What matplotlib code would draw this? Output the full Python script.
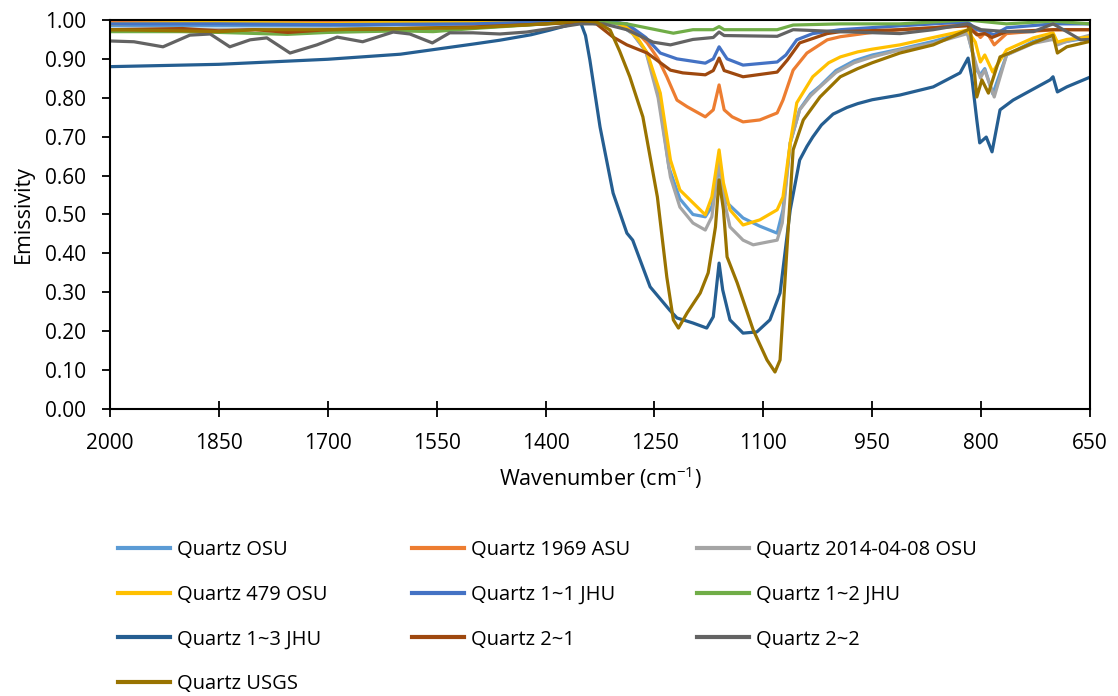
import matplotlib.pyplot as plt

plt.rcParams['font.family'] = ['Open Sans', 'DejaVu Sans']
plt.rcParams['mathtext.default'] = 'regular'

labels = ['Quartz OSU', 'Quartz 1969 ASU', 'Quartz 2014-04-08 OSU',
          'Quartz 479 OSU', 'Quartz 1~1 JHU', 'Quartz 1~2 JHU',
          'Quartz 1~3 JHU', 'Quartz 2~1', 'Quartz 2~2', 'Quartz USGS']
colors = ['#5B9BD5', '#ED7D31', '#A5A5A5', '#FFC000', '#4472C4', '#70AD47',
          '#255E91', '#9E480E', '#636363', '#997300']

# Quartz OSU
wn_osu = [2000, 1850, 1700, 1500, 1400, 1330, 1300, 1280, 1262, 1245, 1230, 1215, 1197, 1180,
          1171, 1161, 1155, 1150, 1128, 1105, 1081, 1073, 1063, 1050, 1035, 1022, 1000, 975, 950,
          912, 866, 819, 806, 801, 795, 784, 765, 728, 701, 695, 682, 650]
em_osu = [0.985, 0.985, 0.985, 0.99, 0.995, 1.0, 0.99, 0.965, 0.92, 0.82, 0.62, 0.54, 0.50, 0.494,
          0.52, 0.622, 0.56, 0.530, 0.491, 0.47, 0.452, 0.512, 0.684, 0.77, 0.81, 0.83, 0.87, 0.895,
          0.91, 0.925, 0.945, 0.97, 0.87, 0.86, 0.875, 0.81, 0.91, 0.945, 0.96, 0.94, 0.945, 0.955]

# Quartz 1969 ASU
wn_asu = [2000, 1850, 1700, 1500, 1400, 1330, 1297, 1275, 1260, 1245, 1233, 1219, 1205, 1180,
          1169, 1161, 1154, 1143, 1128, 1105, 1081, 1073, 1059, 1040, 1012, 994, 950, 912, 866,
          819, 806, 801, 793, 782, 765, 701, 650]
em_asu = [0.995, 0.996, 0.995, 0.996, 0.998, 1.0, 0.992, 0.97, 0.941, 0.9, 0.854, 0.794, 0.777,
          0.751, 0.769, 0.833, 0.769, 0.751, 0.738, 0.743, 0.761, 0.794, 0.871, 0.915, 0.949,
          0.957, 0.968, 0.975, 0.98, 0.99, 0.965, 0.955, 0.97, 0.936, 0.965, 0.975, 0.975]

# Quartz 2014-04-08 OSU
wn_osu14 = [2000, 1850, 1700, 1500, 1400, 1330, 1300, 1280, 1262, 1245, 1228, 1215, 1197, 1180,
            1171, 1161, 1155, 1146, 1128, 1114, 1095, 1081, 1074, 1063, 1050, 1035, 1022, 1000,
            975, 950, 912, 866, 819, 806, 801, 795, 782, 765, 728, 701, 695, 682, 650]
em_osu14 = [0.975, 0.975, 0.977, 0.98, 0.99, 1.0, 0.99, 0.965, 0.92, 0.80, 0.596, 0.519, 0.478,
            0.460, 0.494, 0.640, 0.545, 0.468, 0.434, 0.422, 0.429, 0.434, 0.478, 0.684, 0.769,
            0.805, 0.828, 0.865, 0.89, 0.905, 0.923, 0.94, 0.965, 0.879, 0.851, 0.871, 0.802,
            0.910, 0.94, 0.95, 0.936, 0.945, 0.961]

# Quartz 479 OSU
wn_479 = [2000, 1850, 1700, 1600, 1500, 1400, 1330, 1305, 1288, 1272, 1260, 1242, 1228, 1215,
          1197, 1180, 1171, 1161, 1155, 1146, 1128, 1105, 1081, 1073, 1063, 1054, 1032, 1010,
          994, 970, 950, 912, 866, 819, 808, 801, 795, 784, 765, 728, 701, 695, 682, 650]
em_479 = [0.99, 0.995, 0.99, 0.995, 0.995, 0.998, 1.0, 0.995, 0.98, 0.95, 0.915, 0.812, 0.640,
          0.563, 0.530, 0.499, 0.545, 0.666, 0.581, 0.512, 0.473, 0.486, 0.512, 0.545, 0.684,
          0.787, 0.854, 0.89, 0.905, 0.918, 0.925, 0.936, 0.955, 0.974, 0.943, 0.892, 0.910,
          0.866, 0.923, 0.954, 0.967, 0.943, 0.95, 0.956]

# Quartz 1~1 JHU
wn_j11 = [2000, 1850, 1700, 1500, 1400, 1330, 1288, 1262, 1242, 1219, 1180, 1169, 1161, 1150,
          1128, 1081, 1069, 1054, 1032, 994, 912, 819, 806, 795, 782, 765, 700, 650]
em_j11 = [0.99, 0.99, 0.988, 0.99, 0.995, 1.0, 0.99, 0.955, 0.915, 0.90, 0.889, 0.90, 0.931, 0.90,
          0.884, 0.892, 0.91, 0.949, 0.965, 0.975, 0.985, 0.995, 0.975, 0.97, 0.962, 0.98, 0.99,
          0.99]

# Quartz 1~2 JHU
wn_j12 = [2000, 1900, 1850, 1756, 1700, 1600, 1555, 1500, 1400, 1330, 1288, 1224, 1197, 1169,
          1161, 1154, 1081, 1059, 994, 912, 819, 765, 701, 650]
em_j12 = [0.97, 0.97, 0.968, 0.963, 0.968, 0.972, 0.97, 0.978, 0.99, 0.995, 0.99, 0.966, 0.975,
          0.975, 0.983, 0.975, 0.975, 0.987, 0.99, 0.99, 1.0, 0.99, 0.997, 0.99]

# Quartz 1~3 JHU
wn_j13 = [2000, 1850, 1700, 1600, 1550, 1500, 1463, 1420, 1394, 1370, 1352, 1345, 1339, 1325,
          1307, 1288, 1280, 1256, 1229, 1219, 1197, 1178, 1169, 1161, 1156, 1146, 1128, 1109,
          1091, 1077, 1063, 1050, 1040, 1032, 1020, 1004, 985, 970, 950, 912, 866, 829, 818,
          813, 806, 802, 793, 785, 774, 756, 705, 701, 695, 682, 650]
em_j13 = [0.880, 0.886, 0.899, 0.912, 0.925, 0.938, 0.948, 0.962, 0.974, 0.986, 0.995, 0.96,
          0.897, 0.725, 0.555, 0.452, 0.434, 0.314, 0.254, 0.234, 0.221, 0.208, 0.237, 0.375,
          0.306, 0.229, 0.195, 0.198, 0.229, 0.298, 0.512, 0.640, 0.675, 0.699, 0.730, 0.758,
          0.775, 0.785, 0.795, 0.807, 0.828, 0.864, 0.902, 0.854, 0.743, 0.684, 0.699, 0.661,
          0.769, 0.794, 0.846, 0.854, 0.815, 0.828, 0.853]

# Quartz 2~1
wn_q21 = [2000, 1900, 1850, 1800, 1755, 1700, 1600, 1500, 1400, 1350, 1330, 1307, 1288, 1260,
          1228, 1211, 1180, 1169, 1161, 1154, 1128, 1081, 1067, 1050, 1012, 994, 912, 819, 806,
          795, 785, 765, 700, 650]
em_q21 = [0.975, 0.978, 0.972, 0.975, 0.968, 0.975, 0.978, 0.982, 0.99, 0.995, 0.99, 0.956, 0.936,
          0.915, 0.871, 0.864, 0.859, 0.87, 0.902, 0.87, 0.854, 0.866, 0.897, 0.941, 0.965, 0.97,
          0.975, 0.985, 0.962, 0.965, 0.955, 0.97, 0.975, 0.975]

# Quartz 2~2
wn_q22 = [2000, 1967, 1927, 1890, 1862, 1835, 1807, 1784, 1752, 1715, 1687, 1652, 1610, 1587,
          1556, 1532, 1500, 1463, 1426, 1380, 1352, 1320, 1288, 1252, 1228, 1197, 1169, 1161,
          1154, 1081, 1059, 994, 912, 866, 819, 800, 765, 728, 701, 682, 663, 650]
em_q22 = [0.946, 0.944, 0.931, 0.961, 0.964, 0.931, 0.949, 0.954, 0.915, 0.936, 0.956, 0.944,
          0.969, 0.964, 0.941, 0.967, 0.967, 0.964, 0.969, 0.982, 0.99, 0.99, 0.975, 0.943, 0.936,
          0.95, 0.955, 0.969, 0.96, 0.958, 0.975, 0.97, 0.965, 0.975, 0.99, 0.975, 0.97, 0.97,
          0.99, 0.97, 0.949, 0.95]

# Quartz USGS
wn_usgs = [2000, 1900, 1850, 1800, 1700, 1600, 1500, 1400, 1350, 1330, 1311, 1298, 1284, 1266,
           1246, 1233, 1224, 1217, 1205, 1187, 1176, 1166, 1161, 1155, 1150, 1136, 1114, 1095,
           1084, 1077, 1067, 1059, 1045, 1022, 994, 970, 950, 912, 866, 819, 815, 806, 799, 790,
           774, 728, 701, 695, 682, 650]
em_usgs = [0.975, 0.972, 0.97, 0.975, 0.975, 0.978, 0.98, 0.99, 0.998, 0.995, 0.974, 0.92, 0.854,
           0.751, 0.545, 0.339, 0.229, 0.208, 0.247, 0.298, 0.350, 0.468, 0.589, 0.512, 0.391,
           0.324, 0.203, 0.126, 0.095, 0.126, 0.427, 0.666, 0.743, 0.802, 0.854, 0.875, 0.89,
           0.915, 0.936, 0.974, 0.979, 0.802, 0.846, 0.812, 0.905, 0.941, 0.961, 0.915, 0.931,
           0.945]

series_wn = [wn_osu, wn_asu, wn_osu14, wn_479, wn_j11, wn_j12, wn_j13, wn_q21, wn_q22, wn_usgs]
series_em = [em_osu, em_asu, em_osu14, em_479, em_j11, em_j12, em_j13, em_q21, em_q22, em_usgs]

x_ticks = [2000, 1850, 1700, 1550, 1400, 1250, 1100, 950, 800, 650]
y_ticks = [0.0, 0.1, 0.2, 0.3, 0.4, 0.5, 0.6, 0.7, 0.8, 0.9, 1.0]

fig = plt.figure(figsize=(11.18, 6.96), dpi=100)
ax = fig.add_axes([0.0984, 0.4124, 0.8766, 0.5589])

handles = []
for wn, em, lab, c in zip(series_wn, series_em, labels, colors):
    h, = ax.plot(wn, em, color=c, lw=2.3, label=lab, solid_joinstyle='round')
    handles.append(h)

ax.set_xlim(2000, 650)
ax.set_ylim(0, 1)
ax.set_xticks(x_ticks)
ax.set_yticks(y_ticks)
ax.set_yticklabels(['%.2f' % v for v in y_ticks])
ax.tick_params(axis='x', direction='inout', length=12, width=1.3, labelsize=15, pad=11)
ax.tick_params(axis='y', direction='out', length=6, width=1.3, labelsize=15, pad=11)
for s in ['left', 'bottom', 'right', 'top']:
    ax.spines[s].set_linewidth(1.5)

ax.set_xlabel('Wavenumber (cm$^{-1}$)', fontsize=15.5, labelpad=8)
ax.set_ylabel('Emissivity', fontsize=15.5, labelpad=8)

# legend laid out row by row, 3 per row, like the original
col_x = [118, 412, 697]
for ci in range(3):
    idx = list(range(ci, len(labels), 3))
    leg = fig.legend([handles[i] for i in idx], [labels[i] for i in idx],
                     loc='upper left', bbox_to_anchor=(col_x[ci] / 1118, 1 - 540 / 696),
                     frameon=False, fontsize=14.5, handlelength=2.6, handletextpad=0.35,
                     borderpad=0, borderaxespad=0, labelspacing=1.23)
    for line in leg.get_lines():
        line.set_linewidth(3)

fig.savefig('out.png', dpi=100)
